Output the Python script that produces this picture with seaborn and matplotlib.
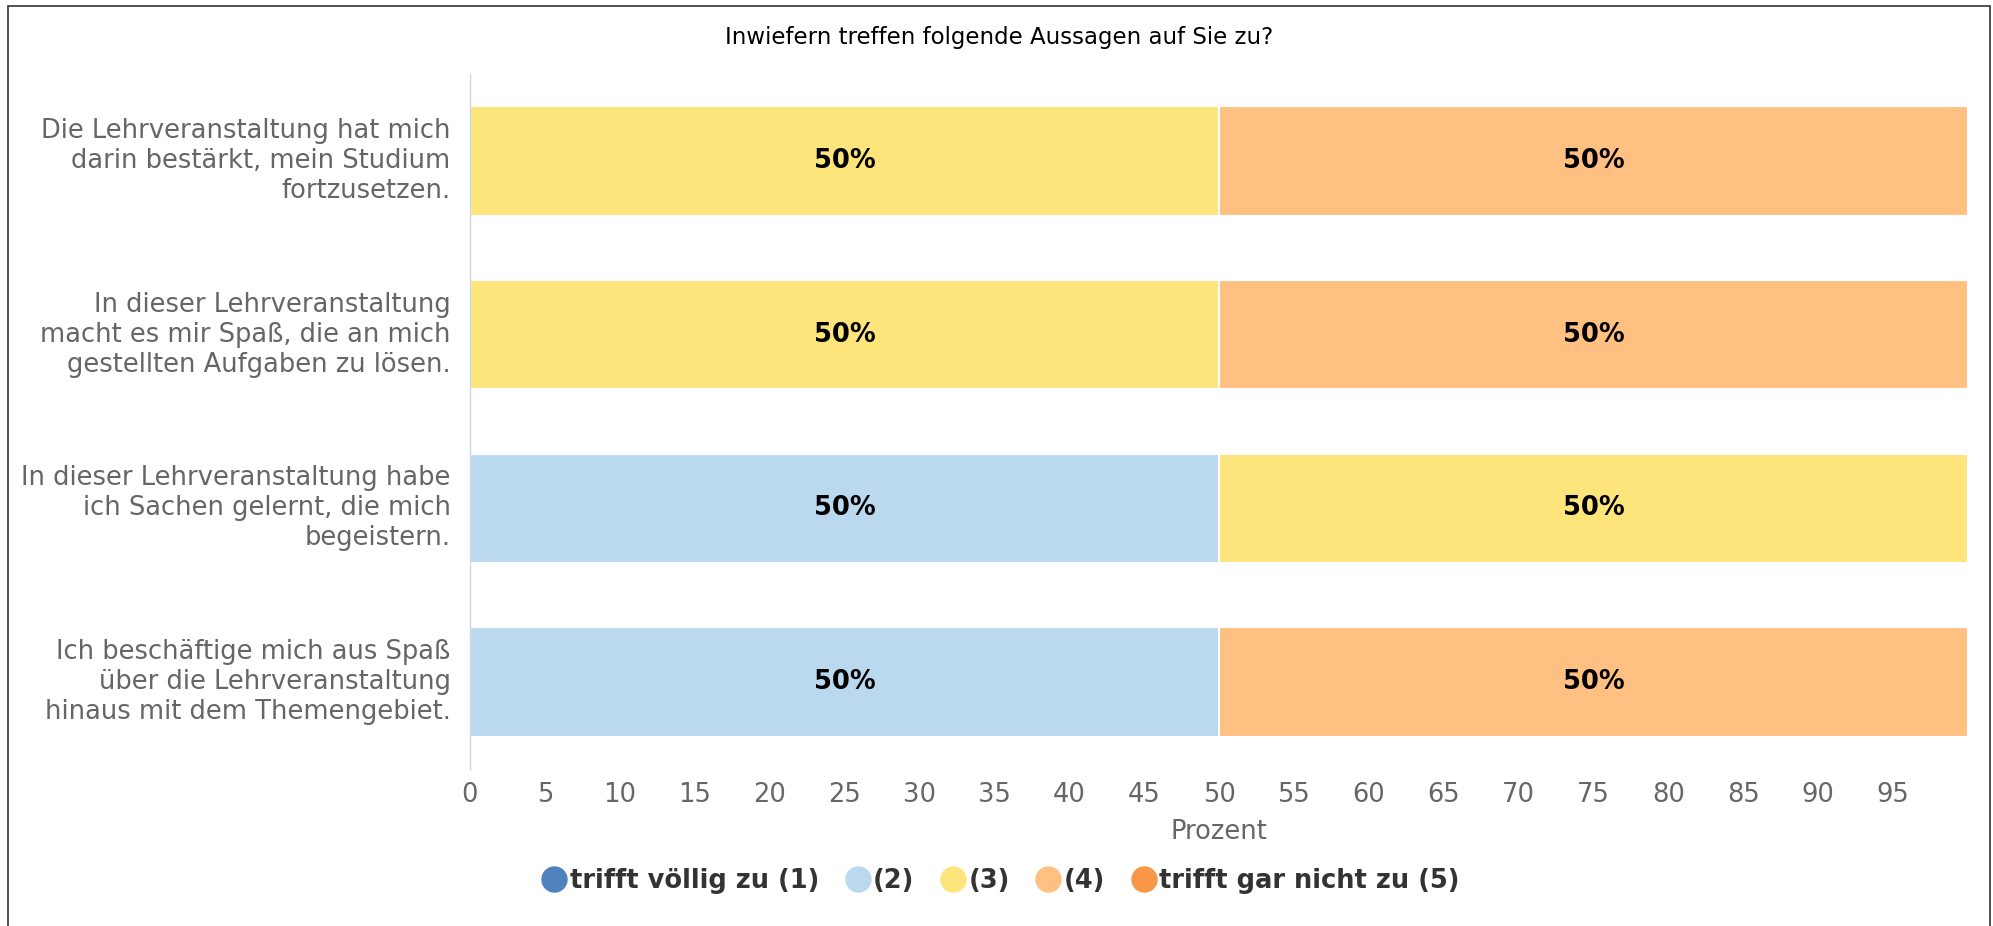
import pandas as pd
import seaborn as sns
import matplotlib.pyplot as plt
from matplotlib.lines import Line2D
from matplotlib.patches import Rectangle

# Survey statements (y categories)
statements = [
    "Die Lehrveranstaltung hat mich\ndarin bestärkt, mein Studium\nfortzusetzen.",
    "In dieser Lehrveranstaltung\nmacht es mir Spaß, die an mich\ngestellten Aufgaben zu lösen.",
    "In dieser Lehrveranstaltung habe\nich Sachen gelernt, die mich\nbegeistern.",
    "Ich beschäftige mich aus Spaß\nüber die Lehrveranstaltung\nhinaus mit dem Themengebiet.",
]

# Answer levels and their share (percent) per statement
levels = ["trifft völlig zu (1)", "(2)", "(3)", "(4)", "trifft gar nicht zu (5)"]
level_1 = [0, 0, 0, 0]
level_2 = [0, 0, 50, 50]
level_3 = [50, 50, 50, 0]
level_4 = [50, 50, 0, 50]
level_5 = [0, 0, 0, 0]
colors = ["#4f81bd", "#bbd9ee", "#fde57c", "#ffc082", "#f89748"]

df = pd.DataFrame({"Aussage": statements, levels[0]: level_1, levels[1]: level_2,
                   levels[2]: level_3, levels[3]: level_4, levels[4]: level_5})
cum = df[levels].cumsum(axis=1)

fig = plt.figure(figsize=(19.93, 9.26), dpi=100)
ax = fig.add_axes([0.2358, 0.1695, 0.7517, 0.7506])

# stacked bars: draw cumulative totals from the longest to the shortest
for i in range(len(levels) - 1, -1, -1):
    part = pd.DataFrame({"Aussage": statements, "wert": cum[levels[i]]})
    sns.barplot(data=part, y="Aussage", x="wert", color=colors[i], saturation=1,
                width=0.63, edgecolor="white", linewidth=1.5, ax=ax)

# percentage labels in the middle of each segment
for r, s in enumerate(statements):
    start = 0
    for lv in levels:
        v = df.loc[r, lv]
        if v > 0:
            ax.text(start + v / 2, r, f"{v:.0f}%", ha="center", va="center",
                    fontsize=18.5, fontweight="bold", color="black")
        start += v

ax.set_xlim(0, 100)
ax.set_ylim(3.5, -0.5)
ax.set_xticks(range(0, 100, 5))
ax.set_xlabel("Prozent", fontsize=18.5, color="#666666", labelpad=8)
ax.set_ylabel("")
ax.tick_params(axis="x", length=0, labelsize=18.5, labelcolor="#666666", pad=9)
ax.tick_params(axis="y", length=0, labelsize=18.5, labelcolor="#666666", pad=14)
for lbl in ax.get_yticklabels():
    lbl.set_va("center")
for side in ["top", "right", "bottom"]:
    ax.spines[side].set_visible(False)
ax.spines["left"].set_color("#ccd6eb")
ax.spines["left"].set_linewidth(1)

fig.text(0.5013, 0.959, "Inwiefern treffen folgende Aussagen auf Sie zu?",
         ha="center", va="center", fontsize=16.5, color="black")

handles = [Line2D([], [], marker="o", linestyle="", markersize=18,
                  markerfacecolor=c, markeredgecolor=c) for c in colors]
leg = fig.legend(handles, levels, loc="center", bbox_to_anchor=(0.5013, 0.0485),
                 ncol=5, frameon=False, handletextpad=0.0, columnspacing=0.9,
                 handlelength=1.2, prop={"size": 18.5, "weight": "bold"})
for t in leg.get_texts():
    t.set_color("#333333")

fig.patches.append(Rectangle((0.004, -0.1), 0.9945, 1.0935, transform=fig.transFigure,
                             fill=False, edgecolor="#333333", linewidth=1.2))

fig.savefig("out.png", dpi=100)
